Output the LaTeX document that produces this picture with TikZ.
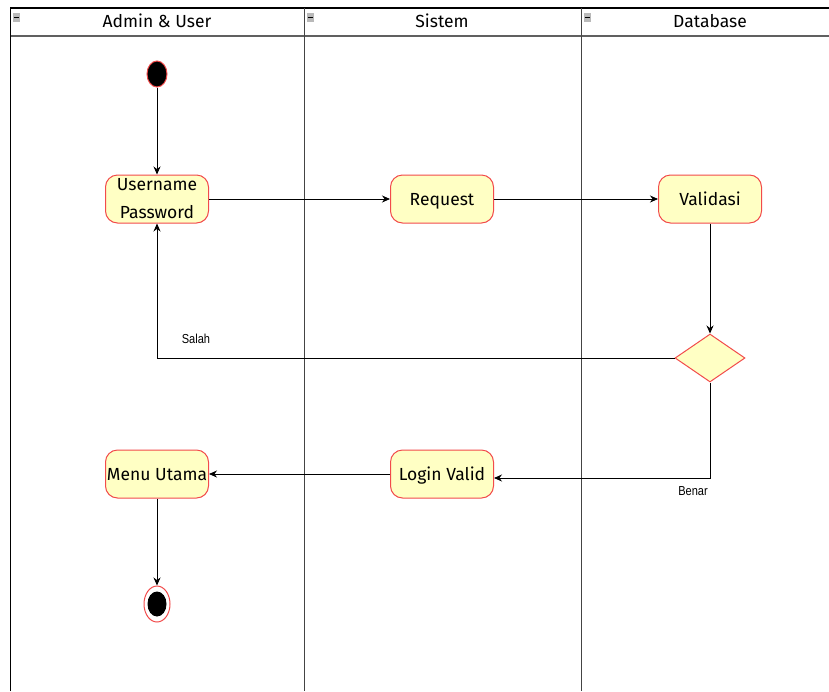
\documentclass[tikz,border=0pt]{standalone}
\usepackage{fontspec}
\setmainfont{Fira Sans}
\newfontfamily\labelfont[FakeStretch=0.85]{Liberation Sans}
\usetikzlibrary{arrows.meta,shapes.geometric}
\definecolor{actfill}{HTML}{FFFFC4}
\definecolor{actline}{HTML}{F24B4B}
\definecolor{laneline}{HTML}{444444}
\tikzset{
  activity/.style={draw=actline, fill=actfill, line width=1pt, rounded corners=12pt,
    minimum width=103pt, minimum height=48pt, inner sep=0pt, align=center,
    font=\fontsize{17.5}{28}\selectfont, text=black},
  oneline/.style={text height=13pt, text depth=1pt},
  decision/.style={draw=actline, fill=actfill, line width=1pt, diamond, aspect=1.46,
    minimum width=70pt, minimum height=48pt, inner sep=0pt},
  startnode/.style={draw=actline, fill=black, line width=1pt, ellipse,
    minimum width=20pt, minimum height=26pt, inner sep=0pt},
  flow/.style={draw=black, line width=0.8pt, -{Stealth[length=8pt,width=7pt]}},
  lanehead/.style={font=\fontsize{17.5}{20}\selectfont, text=black},
  guard/.style={font=\labelfont\fontsize{13}{15}\selectfont, text=black},
  lane/.style={draw=laneline, line width=1pt},
}
\newcommand{\collapsebox}[2]{%
  \fill[gray!55] (#1-3.5,#2-4.5) rectangle (#1+3.5,#2+4.5);
  \draw[black, line width=0.9pt] (#1-2.5,#2) -- (#1+2.5,#2);}
\begin{document}
\begin{tikzpicture}[x=1pt,y=-1pt]
\useasboundingbox (0,0) rectangle (829,691);
\fill[white] (0,0) rectangle (829,691);

% swimlane frame
\draw[black, line width=1.3pt] (10.5,691) -- (10.5,8) -- (829,8);
\draw[laneline!85, line width=1.5pt] (10.5,36) -- (829,36);
\draw[lane] (304,8) -- (304,691);
\draw[lane] (581,8) -- (581,691);
\collapsebox{16.5}{17}
\collapsebox{310}{17}
\collapsebox{587}{17}

% lane titles
\node[lanehead] (h1) at (157,21) {Admin \& User};
\node[lanehead] (h2) at (442,21) {Sistem};
\node[lanehead] (h3) at (710,21) {Database};

% activities
\node[startnode] (start) at (157,74) {};
\node[activity] (login) at (157,199) {Username\\Password};
\node[activity, oneline] (req) at (442,199) {Request};
\node[activity, oneline] (valid) at (710,199) {Validasi};
\node[decision] (dec) at (710,358) {};
\node[activity, oneline] (ok) at (442,474) {Login Valid};
\node[activity, oneline] (menu) at (157,474) {Menu Utama};
\node[draw=actline, line width=1pt, fill=white, ellipse, minimum width=26pt,
  minimum height=36pt, inner sep=0pt] (end) at (157,604) {};
\node[fill=black, ellipse, minimum width=19pt, minimum height=25pt, inner sep=0pt]
  (endcore) at (157,604) {};

% transitions
\draw[flow] (start) -- (login);
\draw[flow] (login) -- (req);
\draw[flow] (req) -- (valid);
\draw[flow] (valid) -- (dec);
\draw[flow] (dec.west) -| (login.south);
\coordinate (benarcorner) at (710,478);
\draw[flow] (dec.south) -- (benarcorner) -- (ok.east |- benarcorner);
\draw[flow] (ok) -- (menu);
\draw[flow] (menu) -- (end);

% guards
\node[guard] (salah) at (196,339) {Salah};
\node[guard] (benar) at (693,491) {Benar};
\end{tikzpicture}
\end{document}
